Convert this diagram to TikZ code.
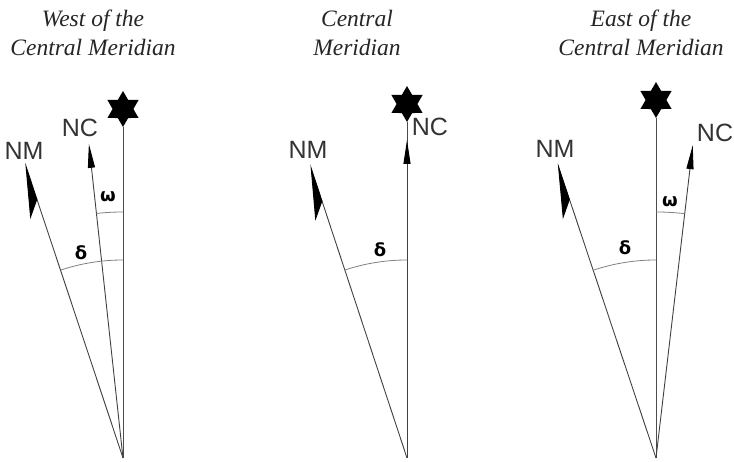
\documentclass[tikz,border=0pt]{standalone}
\usepackage{fontspec}
\newfontfamily\lblfont{Liberation Sans}
\newfontfamily\grkfont{DejaVu Sans}
\newfontfamily\ttlfont{Liberation Serif}
\usetikzlibrary{arrows.meta,shapes.geometric,calc}
\begin{document}
\begin{tikzpicture}[x=1pt,y=1pt,
  title/.style={font=\ttlfont\itshape\fontsize{23.5}{29}\selectfont, align=center, text=black!85, inner sep=0},
  axis/.style={draw=black!70, line width=0.9pt},
  ray/.style={draw=black!75, line width=0.9pt},
  arcline/.style={draw=black!50, line width=0.8pt},
  lbl/.style={font=\lblfont\fontsize{25}{25}\selectfont, text=black!80, inner sep=0},
  grk/.style={font=\grkfont\bfseries\fontsize{18}{18}\selectfont, inner sep=0},
  starnode/.style={star, star points=6, star point ratio=1.73, fill=black, minimum size=36pt, inner sep=0},
  ncarrow/.style={ray, -{Triangle[length=24pt,width=7pt,color=black]}},
  nmarrow/.style={ray, -{Stealth[left,length=53pt,width=25pt,inset=16pt,color=black]}}
]
\useasboundingbox (0,0) rectangle (734,462);

% ---------- Panel 1: West ----------
\node[title] (T1) at (93,429) {West of the\\Central Meridian};
\coordinate (B1) at (123,4);
\node[starnode] (S1) at (123,353) {};
\draw[axis] (B1) -- (S1.south);
\coordinate (C1) at ($(B1)+(96.2:316)$);
\coordinate (M1) at ($(B1)+(108.4:311)$);
\draw[ncarrow] (B1) -- (C1);
\draw[nmarrow] (B1) -- (M1);
\draw[arcline] ($(B1)+(90:246)$) arc[start angle=90, end angle=96.2, radius=246];
\draw[arcline] ($(B1)+(90:198)$) arc[start angle=90, end angle=108.4, radius=198];
\node[lbl] (NC1) at (80,334) {NC};
\node[lbl] (NM1) at (24,311) {NM};
\node[grk] (W1) at (108,265) {ω};
\node[grk] (D1) at (81,209) {δ};

% ---------- Panel 2: Central ----------
\node[title] (T2) at (357,429) {Central\\Meridian};
\coordinate (B2) at (407,4);
\node[starnode] (S2) at (407,358) {};
\draw[axis] (B2) -- (S2.south);
\coordinate (C2) at (407,322);
\coordinate (M2) at ($(B2)+(108.3:309)$);
\draw[ncarrow] (B2) -- (C2);
\draw[nmarrow] (B2) -- (M2);
\draw[arcline] ($(B2)+(90:198)$) arc[start angle=90, end angle=108.3, radius=198];
\node[lbl] (NC2) at (430,335) {NC};
\node[lbl] (NM2) at (308,312) {NM};
\node[grk] (D2) at (380,212) {δ};

% ---------- Panel 3: East ----------
\node[title] (T3) at (641,429) {East of the\\Central Meridian};
\coordinate (B3) at (656,4);
\node[starnode] (S3) at (656,362) {};
\draw[axis] (B3) -- (S3.south);
\coordinate (C3) at ($(B3)+(83.3:315)$);
\coordinate (M3) at ($(B3)+(108.5:311)$);
\draw[ncarrow] (B3) -- (C3);
\draw[nmarrow] (B3) -- (M3);
\draw[arcline] ($(B3)+(90:246)$) arc[start angle=90, end angle=83.3, radius=246];
\draw[arcline] ($(B3)+(90:198)$) arc[start angle=90, end angle=108.5, radius=198];
\node[lbl] (NC3) at (715,329) {NC};
\node[lbl] (NM3) at (555,313) {NM};
\node[grk] (W3) at (670,260) {ω};
\node[grk] (D3) at (625,214) {δ};
\end{tikzpicture}
\end{document}
